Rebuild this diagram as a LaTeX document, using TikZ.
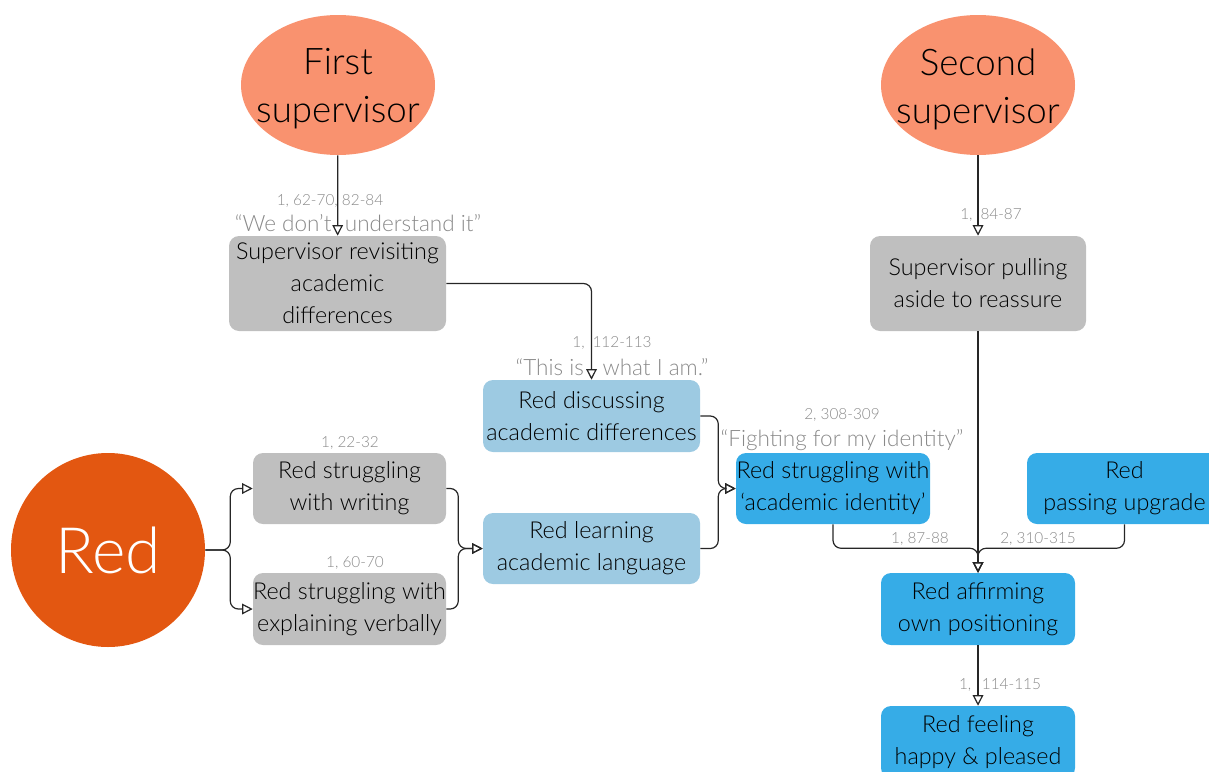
\documentclass[tikz,border=0pt]{standalone}
\usepackage{fontspec}
\setmainfont{Lato Light}
\usetikzlibrary{arrows.meta,shapes.geometric}
\definecolor{supsalmon}{HTML}{F9926F}
\definecolor{redorange}{HTML}{E35711}
\definecolor{boxgray}{HTML}{BFBFBF}
\definecolor{paleblue}{HTML}{9DCAE2}
\definecolor{brightblue}{HTML}{36ACE7}
\definecolor{labelgray}{HTML}{8A8A8A}
\begin{document}
\begin{tikzpicture}[x=0.75pt,y=-0.75pt,
  sz/.style 2 args={minimum width=#1*0.75pt, minimum height=#2*0.75pt},
  box/.style={rounded corners=7.5pt, inner sep=0pt, align=center, text=black,
    font=\fontsize{17.5}{24}\selectfont},
  graybox/.style={box, fill=boxgray},
  palebox/.style={box, fill=paleblue},
  bluebox/.style={box, fill=brightblue},
  supervisor/.style={ellipse, fill=supsalmon, inner sep=0pt, sz={194}{140}},
  suptext/.style={align=center, inner sep=0pt, font=\fontsize{27.5}{36}\selectfont},
  ref/.style={text=labelgray, inner sep=0pt, font=\fontsize{11.5}{13}\selectfont},
  quote/.style={text=labelgray, inner sep=0pt, font=\fontsize{16.9}{19}\selectfont},
  link/.style={draw=black!85, line width=0.9pt, rounded corners=6pt,
    -{Triangle[open, length=8pt, width=8pt]}},
]
\useasboundingbox (0,0) rectangle (1209,771);

% supervisors: the ellipse, then its caption centred on it
\node[supervisor] (first) at (338,85) {};
\node[suptext] (firsttext) at ([yshift=-3pt]first.center) {First\\supervisor};
\node[supervisor] (second) at (978,85) {};
\node[suptext] (secondtext) at ([yshift=-3pt]second.center) {Second\\supervisor};
\node[circle, fill=redorange, inner sep=0pt, minimum size=194*0.75pt,
  text=white, font=\fontsize{48}{52}\selectfont] (red) at (108,550) {Red};

% gray boxes
\node[graybox, sz={217}{95}] (revisit) at (337.5,283.5) {Supervisor revisiting\\academic\\differences};
\node[graybox, sz={216}{95}] (pull) at (978,283.5) {Supervisor pulling\\aside to reassure};
\node[graybox, sz={193}{71}] (writing) at (349.5,488.5) {Red struggling\\with writing};
\node[graybox, sz={193}{72}] (verbal) at (349.5,609) {Red struggling with\\explaining verbally};

% pale blue boxes
\node[palebox, sz={217}{72}] (discuss) at (591.5,416) {Red discussing\\academic differences};
\node[palebox, sz={217}{71}] (learn) at (591.5,548.5) {Red learning\\academic language};

% bright blue boxes
\node[bluebox, sz={194}{71}] (identity) at (833,488.5) {Red struggling with\\‘academic identity’};
\node[bluebox, sz={195}{71}] (upgrade) at (1124.5,488.5) {Red\\passing upgrade};
\node[bluebox, sz={194}{72}] (affirm) at (978,609) {Red affirming\\own positioning};
\node[bluebox, sz={194}{72}] (happy) at (978,742) {Red feeling\\happy \& pleased};

% connectors
\draw[link] (first) -- (revisit);
\draw[link] (second) -- (pull);
\draw[link] (revisit.east) -| (discuss.north);
\draw[link] (red.east) -- ++(25,0) |- (writing.west);
\draw[link] (red.east) -- ++(25,0) |- (verbal.west);
\draw[link] (writing.east) -- ++(12,0) |- (learn.west);
\draw[link] (verbal.east) -- ++(12,0) |- (learn.west);
\draw[link] (discuss.east) -- ++(18,0) |- (identity.west);
\draw[link] (learn.east) -- ++(18,0) |- (identity.west);
\draw[link] (pull) -- (affirm);
\draw[link] (identity.south) -- ++(0,24) -| (affirm.north);
\draw[link] (upgrade.south) -- ++(0,24) -| (affirm.north);
\draw[link] (affirm) -- (happy);

% references and quotes
\node[ref] (r1) at (330,201) {1, 62-70, 82-84};
\node[quote] (q1) at (358,223) {“We don’t\hspace{10pt}understand it”};
\node[ref] (r2) at (612,343) {1,\hspace{6pt}112-113};
\node[quote] (q2) at (612,367) {“This is\hspace{14pt}what I am.”};
\node[ref] (r3) at (991,215) {1,\hspace{6pt}84-87};
\node[ref] (r4) at (842,415) {2, 308-309};
\node[quote] (q4) at (842,440) {“Fighting for my identity”};
\node[ref] (r5) at (920,539) {1, 87-88};
\node[ref] (r6) at (1038,539) {2, 310-315};
\node[ref] (r7) at (350,443) {1, 22-32};
\node[ref] (r8) at (355,563) {1, 60-70};
\node[ref] (r9) at (1000,685) {1,\hspace{8pt}114-115};
\end{tikzpicture}
\end{document}
